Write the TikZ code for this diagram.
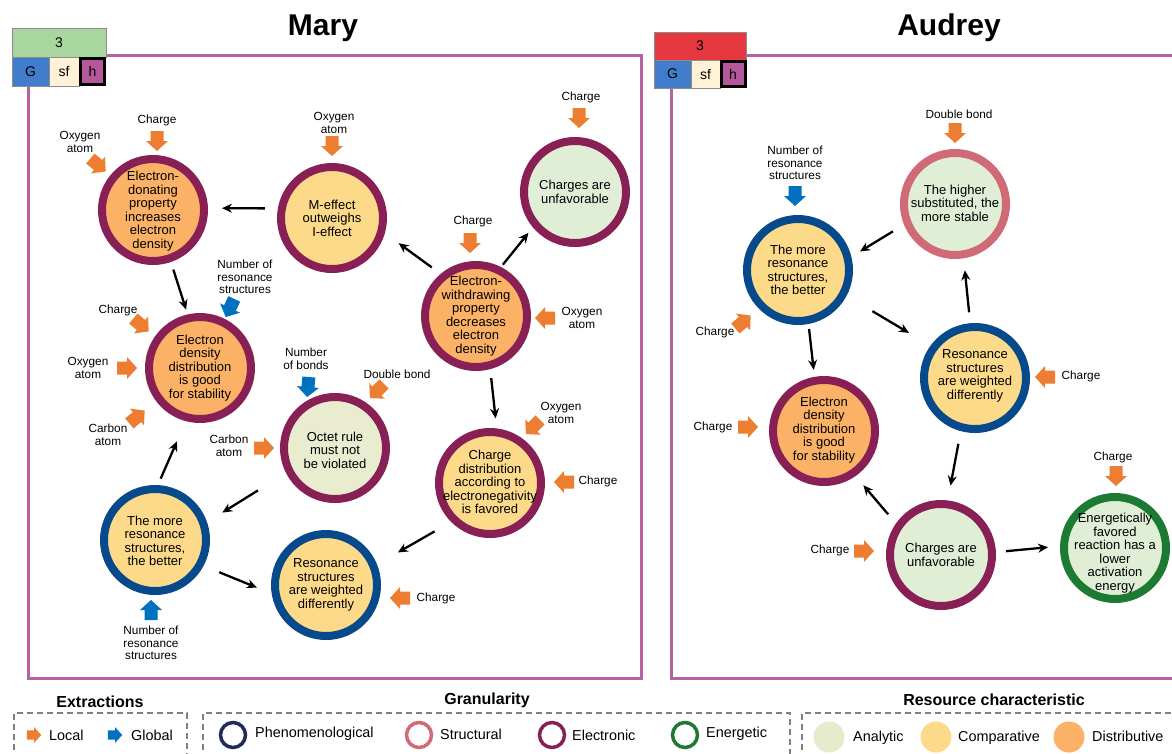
\documentclass[tikz,border=0pt]{standalone}
\usepackage{fontspec}
\setmainfont{Liberation Sans}
\usetikzlibrary{arrows.meta}

% granularity (outline) colours
\definecolor{elecC}{RGB}{136,32,86}
\definecolor{phenC}{RGB}{6,74,140}
\definecolor{strucC}{RGB}{207,106,118}
\definecolor{enerC}{RGB}{28,122,51}
\definecolor{phenL}{RGB}{34,42,92}
% resource (fill) colours
\definecolor{analC}{RGB}{224,238,214}
\definecolor{analY}{RGB}{233,236,206}
\definecolor{analL}{RGB}{230,235,204}
\definecolor{compC}{RGB}{253,217,138}
\definecolor{distC}{RGB}{251,178,102}
% extraction arrows
\definecolor{locC}{RGB}{237,125,49}
\definecolor{gloC}{RGB}{0,112,192}
% frames and badges
\definecolor{frameC}{RGB}{183,98,160}
\definecolor{dashC}{RGB}{128,128,128}
\definecolor{badgeG}{RGB}{168,214,158}
\definecolor{badgeR}{RGB}{230,56,64}
\definecolor{cellG}{RGB}{66,125,204}
\definecolor{cellS}{RGB}{255,242,214}
\definecolor{cellH}{RGB}{180,88,155}

\newcommand\circfont{\fontsize{13}{13.5}\selectfont}
\newcommand\labfont{\fontsize{11.8}{12.5}\selectfont}
\newcommand\legfont{\fontsize{14.4}{16}\selectfont}
\newcommand\headfont{\fontsize{16}{18}\selectfont\bfseries}
\newcommand\titlefont{\fontsize{30}{32}\selectfont\bfseries}

\tikzset{
  circ/.style={circle, minimum size=102pt, line width=8pt, inner sep=0pt},
  elec/.style={circ, draw=elecC},
  phen/.style={circ, draw=phenC},
  struc/.style={circ, draw=strucC},
  ener/.style={circ, draw=enerC},
  ctext/.style={align=center, font=\circfont, inner sep=0pt},
  lab/.style={align=center, font=\labfont, inner sep=0pt},
  conn/.style={draw, line width=2.3pt, -{Stealth[length=10pt,width=9pt]}},
  blk/.pic={\fill[#1] (-10,-6.5) -- (0,-6.5) -- (0,-11) -- (10,0) -- (0,11) -- (0,6.5) -- (-10,6.5) -- cycle;},
  frame/.style={draw=frameC, line width=3pt},
  cell/.style={draw=black!45, line width=0.6pt, inner sep=0pt, font=\fontsize{14}{14}\selectfont},
  hcell/.style={draw=black, line width=3pt, fill=cellH, inner sep=0pt, font=\fontsize{14}{14}\selectfont},
  dbox/.style={draw=dashC, line width=2pt, dash pattern=on 6pt off 4pt},
  legc/.style={circle, minimum size=25pt, line width=3.5pt, inner sep=0pt},
  legf/.style={circle, minimum size=31pt, inner sep=0pt},
  legt/.style={anchor=west, font=\legfont, inner sep=0pt},
}

\begin{document}
\begin{tikzpicture}[x=1pt, y=-1pt]
\useasboundingbox (0,0) rectangle (1172,753);
\clip (0,0) rectangle (1172,753);

% ---------- panels ----------
\draw[frame] (28,55) rectangle (641,678);
\draw[frame] (671,55) rectangle (1190,678);

\node[font=\titlefont] (tmary) at (323,28) {Mary};
\node[font=\titlefont] (taudrey) at (949,28) {Audrey};

% badges
\node[cell, fill=badgeG, minimum width=94pt, minimum height=29pt] (b1top) at (59,42.5) {3};
\node[cell, fill=cellG, minimum width=37pt, minimum height=29pt] (b1g) at (30.5,71.5) {G};
\node[cell, fill=cellS, minimum width=30pt, minimum height=29pt] (b1s) at (64,71.5) {sf};
\node[hcell, minimum width=24pt, minimum height=26pt] (b1h) at (92.5,71.5) {h};

\node[cell, fill=badgeR, minimum width=92pt, minimum height=28pt] (b2top) at (700,46) {3};
\node[cell, fill=cellG, minimum width=37pt, minimum height=28pt] (b2g) at (672.5,74) {G};
\node[cell, fill=cellS, minimum width=29pt, minimum height=28pt] (b2s) at (705.5,74) {sf};
\node[hcell, minimum width=24pt, minimum height=25pt] (b2h) at (733,74) {h};

% ---------- Mary ----------
\node[elec, fill=distC] (n1) at (153,210) {};
\node[ctext] (n1t) at (153,211) {Electron-\\donating\\property\\increases\\electron\\density};
\node[elec, fill=compC] (n2) at (332,218) {};
\node[ctext] (n2t) at (332,218) {M-effect\\outweighs\\I-effect};
\node[elec, fill=analC] (n3) at (575,192) {};
\node[ctext] (n3t) at (575,192) {Charges are\\unfavorable};
\node[elec, fill=distC] (n4) at (476,316) {};
\node[ctext] (n4t) at (476,316) {Electron-\\withdrawing\\property\\decreases\\electron\\density};
\node[elec, fill=distC] (n5) at (200,368) {};
\node[ctext] (n5t) at (200,368) {Electron\\density\\distribution\\is good\\for stability};
\node[elec, fill=analY] (n6) at (335,448) {};
\node[ctext] (n6t) at (335,450) {Octet rule\\must not\\be violated};
\node[elec, fill=compC] (n7) at (490,483) {};
\node[ctext] (n7t) at (490,482) {Charge\\distribution\\according to\\electronegativity\\is favored};
\node[phen, fill=compC] (n8) at (155,540) {};
\node[ctext] (n8t) at (155,541) {The more\\resonance\\structures,\\the better};
\node[phen, fill=compC] (n9) at (326,585) {};
\node[ctext] (n9t) at (326,585) {Resonance\\structures\\are weighted\\differently};

\draw[conn, shorten <=13pt, shorten >=14pt] (n2.170.7) -- (n1.2.5);
\draw[conn, shorten <=11pt, shorten >=17pt] (n4.130.7) -- (n2.-16.2);
\draw[conn, shorten <=3pt, shorten >=7pt] (n4.63.4) -- (n3.-140.9);
\draw[conn, shorten <=8pt, shorten >=5pt] (n1.-71.6) -- (n5.103.6);
\draw[conn, shorten <=9pt, shorten >=10pt] (n4.-75.5) -- (n7.83.9);
\draw[conn, shorten <=19pt, shorten >=24pt] (n7.-135.5) -- (n9.22.3);
\draw[conn, shorten <=33pt, shorten >=18pt] (n6.-153.7) -- (n8.19.9);
\draw[conn, shorten <=7pt, shorten >=22pt] (n8.87.2) -- (n5.-105.1);
\draw[conn, shorten <=17pt, shorten >=16pt] (n8.-28.4) -- (n9.-171.9);

% extractions around the Mary nodes
\pic[rotate=-90] at (157,141) {blk=locC};
\node[lab] (e1) at (157,120) {Charge};
\pic[rotate=-40] at (98,165) {blk=locC};
\node[lab] (e2) at (80,142) {Oxygen\\atom};
\pic[rotate=-90] at (332,146) {blk=locC};
\node[lab] (e3) at (334,123) {Oxygen\\atom};
\pic[rotate=-90] at (579,118) {blk=locC};
\node[lab] (e4) at (581,97) {Charge};
\pic[rotate=-90] at (470,243) {blk=locC};
\node[lab] (e5) at (473,221) {Charge};
\pic[rotate=180] at (545,318) {blk=locC};
\node[lab] (e6) at (582,318) {Oxygen\\atom};
\pic[rotate=-115] at (230,308) {blk=gloC};
\node[lab] (e7) at (245,277) {Number of\\resonance\\structures};
\pic[rotate=-40] at (141,325) {blk=locC};
\node[lab] (e8) at (118,310) {Charge};
\pic at (127,368) {blk=locC};
\node[lab] (e9) at (88,368) {Oxygen\\atom};
\pic[rotate=40] at (137,417) {blk=locC};
\node[lab] (e10) at (108,435) {Carbon\\atom};
\pic[rotate=-95] at (308,387) {blk=gloC};
\node[lab] (e11) at (306,359) {Number\\of bonds};
\pic[rotate=-135] at (377,391) {blk=locC};
\node[lab] (e12) at (397,374) {Double bond};
\pic at (264,448) {blk=locC};
\node[lab] (e13) at (229,446) {Carbon\\atom};
\pic[rotate=-135] at (533,427) {blk=locC};
\node[lab] (e14) at (561,413) {Oxygen\\atom};
\pic[rotate=180] at (564,482) {blk=locC};
\node[lab] (e15) at (598,481) {Charge};
\pic[rotate=90] at (151,610) {blk=gloC};
\node[lab] (e16) at (151,643) {Number of\\resonance\\structures};
\pic[rotate=180] at (400,598) {blk=locC};
\node[lab] (e17) at (436,598) {Charge};

% ---------- Audrey ----------
\node[struc, fill=analC] (m1) at (955,204) {};
\node[ctext] (m1t) at (955,203) {The higher\\substituted, the\\more stable};
\node[phen, fill=compC] (m2) at (798,270) {};
\node[ctext] (m2t) at (798,270) {The more\\resonance\\structures,\\the better};
\node[phen, fill=compC] (m3) at (975,378) {};
\node[ctext] (m3t) at (975,376) {Resonance\\structures\\are weighted\\differently};
\node[elec, fill=distC] (m4) at (824,431) {};
\node[ctext] (m4t) at (824,430) {Electron\\density\\distribution\\is good\\for stability};
\node[elec, fill=analC] (m5) at (941,555) {};
\node[ctext] (m5t) at (941,555) {Charges are\\unfavorable};
\node[ener, fill=analC] (m6) at (1115,548) {};
\node[ctext] (m6t) at (1115,553) {Energetically\\favored\\reaction has a\\lower\\activation\\energy};

\draw[conn, shorten <=13pt, shorten >=10pt] (m1.-158.4) -- (m2.14.3);
\draw[conn, shorten <=30pt, shorten >=25pt] (m2.-28.1) -- (m3.144.1);
\draw[conn, shorten <=11pt, shorten >=12pt] (m3.95.2) -- (m1.-81.4);
\draw[conn, shorten <=5pt, shorten >=7pt] (m2.-79.4) -- (m4.100.2);
\draw[conn, shorten <=13pt, shorten >=15pt] (m3.-105.3) -- (m5.83.5);
\draw[conn, shorten <=12pt, shorten >=12pt] (m5.145.4) -- (m4.-55.4);
\draw[conn, shorten <=10pt, shorten >=12pt] (m5.3.5) -- (m6.178.3);

% extractions around the Audrey nodes
\pic[rotate=-90] at (955,133) {blk=locC};
\node[lab] (f1) at (959,114) {Double bond};
\pic[rotate=-90] at (795,196) {blk=gloC};
\node[lab] (f2) at (795,163) {Number of\\resonance\\structures};
\pic[rotate=40] at (743,322) {blk=locC};
\node[lab] (f3) at (715,332) {Charge};
\pic[rotate=180] at (1045,377) {blk=locC};
\node[lab] (f4) at (1081,376) {Charge};
\pic at (748,427) {blk=locC};
\node[lab] (f5) at (713,427) {Charge};
\pic at (864,551) {blk=locC};
\node[lab] (f6) at (830,550) {Charge};
\pic[rotate=-90] at (1116,476) {blk=locC};
\node[lab] (f7) at (1113,457) {Charge};

% ---------- legend ----------
\node[font=\headfont] (h1) at (100,702) {Extractions};
\node[font=\headfont] (h2) at (487,700) {Granularity};
\node[font=\headfont] (h3) at (994,700) {Resource characteristic};

\draw[dbox] (14,760) -- (14,713) -- (187,713) -- (187,760);
\draw[dbox] (203,760) -- (203,713) -- (790,713) -- (790,760);
\draw[dbox] (802,760) -- (802,713) -- (1190,713);

\pic[scale=0.72] at (34,735) {blk=locC};
\node[legt] (lg1) at (49,735) {Local};
\pic[scale=0.72] at (115,735) {blk=gloC};
\node[legt] (lg2) at (131,735) {Global};

\node[legc, draw=phenL] (lc1) at (233,735) {};
\node[legt] (lg3) at (255,734) {Phenomenological};
\node[legc, draw=strucC] (lc2) at (419,735) {};
\node[legt] (lg4) at (440,734) {Structural};
\node[legc, draw=elecC] (lc3) at (552,735) {};
\node[legt] (lg5) at (572,735) {Electronic};
\node[legc, draw=enerC] (lc4) at (685,735) {};
\node[legt] (lg6) at (706,734) {Energetic};

\node[legf, fill=analL] (lf1) at (829,737) {};
\node[legt] (lg7) at (853,738) {Analytic};
\node[legf, fill=compC] (lf2) at (936,737) {};
\node[legt] (lg8) at (958,738) {Comparative};
\node[legf, fill=distC] (lf3) at (1069,737) {};
\node[legt] (lg9) at (1092,736) {Distributive};
\end{tikzpicture}
\end{document}
